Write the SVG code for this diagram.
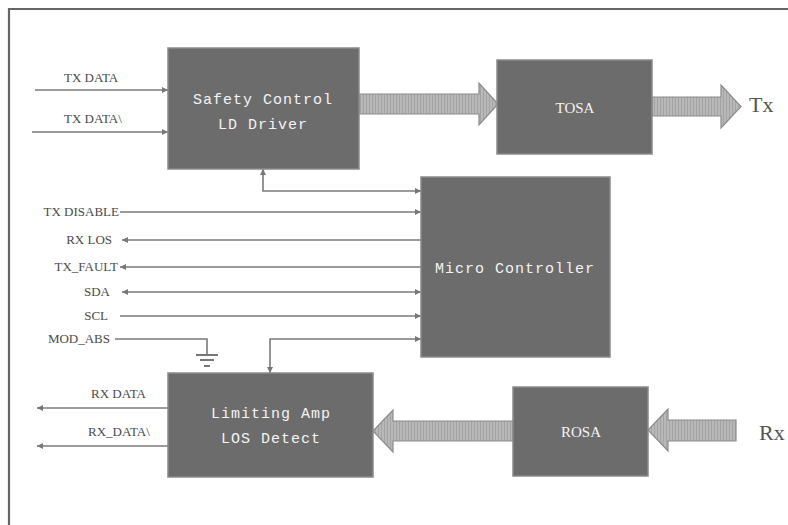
<svg xmlns="http://www.w3.org/2000/svg" width="788" height="525" viewBox="0 0 788 525">
<defs>
<style>
.box{fill:#6c6c6c;stroke:#8a8a8a;stroke-width:1.5}
.bt{font-family:"Liberation Mono",monospace;font-size:15px;fill:#f4f4f4;letter-spacing:1px;text-anchor:middle}
.bs{font-family:"Liberation Serif",serif;font-size:15px;fill:#f4f4f4;text-anchor:middle}
.lbl{font-family:"Liberation Serif",serif;font-size:13px;fill:#4a4a4a}
.big{font-family:"Liberation Serif",serif;font-size:22px;fill:#555}
.ln{fill:none;stroke:#7a7a7a;stroke-width:1.6}
.fat{fill:url(#stripes);stroke:#8c8c8c;stroke-width:1.2}
</style>
<pattern id="stripes" width="3" height="4" patternUnits="userSpaceOnUse">
<rect width="3" height="4" fill="#b8b8b8"/>
<rect width="1" height="4" fill="#a4a4a4"/>
</pattern>
<marker id="ah" viewBox="0 0 10 10" refX="10" refY="5" markerWidth="7" markerHeight="6" markerUnits="userSpaceOnUse" orient="auto-start-reverse">
<path d="M0,0 L10,5 L0,10 z" fill="#777"/>
</marker>
</defs>
<rect width="788" height="525" fill="#fff"/>
<path d="M9,525 V9 H788" fill="none" stroke="#666" stroke-width="2.2"/>

<g id="connectors">
<line class="ln" x1="35" y1="90" x2="168" y2="90" marker-end="url(#ah)"/>
<line class="ln" x1="32" y1="132" x2="168" y2="132" marker-end="url(#ah)"/>
<path class="ln" d="M263,169 V191 H421" marker-start="url(#ah)" marker-end="url(#ah)"/>
<line class="ln" x1="120" y1="212" x2="421" y2="212" marker-end="url(#ah)"/>
<line class="ln" x1="421" y1="240" x2="122" y2="240" marker-end="url(#ah)"/>
<line class="ln" x1="421" y1="267" x2="120" y2="267" marker-end="url(#ah)"/>
<line class="ln" x1="122" y1="292" x2="421" y2="292" marker-start="url(#ah)" marker-end="url(#ah)"/>
<line class="ln" x1="120" y1="316" x2="421" y2="316" marker-end="url(#ah)"/>
<path class="ln" d="M115,339 H207 V355"/>
<path d="M196,355 H218 M200,360 H214 M204,366 H210" stroke="#777" stroke-width="1.8" fill="none"/>
<path class="ln" d="M421,339 H270 V373" marker-start="url(#ah)" marker-end="url(#ah)"/>
<line class="ln" x1="168" y1="408" x2="37" y2="408" marker-end="url(#ah)"/>
<line class="ln" x1="168" y1="446" x2="37" y2="446" marker-end="url(#ah)"/>
<polygon class="fat" points="359,94 479,94 479,83 498,104 479,125 479,114 359,114"/>
<polygon class="fat" points="652,97 721,97 721,85 741,106.5 721,128 721,116 652,116"/>
<polygon class="fat" points="736,420 668,420 668,409 648,430 668,451 668,441 736,441"/>
<polygon class="fat" points="513,421 393,421 393,410 373,431 393,452 393,441 513,441"/>
</g>

<g id="labels">
<text class="lbl" x="64" y="82">TX DATA</text>
<text class="lbl" x="64" y="123">TX DATA\</text>
<text class="lbl" x="119" y="216" text-anchor="end">TX DISABLE</text>
<text class="lbl" x="112" y="244" text-anchor="end">RX LOS</text>
<text class="lbl" x="118" y="271" text-anchor="end">TX_FAULT</text>
<text class="lbl" x="110" y="296" text-anchor="end">SDA</text>
<text class="lbl" x="108" y="320" text-anchor="end">SCL</text>
<text class="lbl" x="110" y="343" text-anchor="end">MOD_ABS</text>
<text class="lbl" x="91" y="398">RX DATA</text>
<text class="lbl" x="88" y="436">RX_DATA\</text>
<text class="big" x="749" y="112">Tx</text>
<text class="big" x="759" y="440">Rx</text>
</g>

<g id="safety">
<rect class="box" x="168" y="48" width="191" height="121"/>
<text class="bt" x="263" y="104">Safety Control</text>
<text class="bt" x="263" y="129">LD Driver</text>
</g>
<g id="tosa">
<rect class="box" x="497" y="60" width="155" height="94"/>
<text class="bs" x="575" y="113">TOSA</text>
</g>
<g id="micro">
<rect class="box" x="421" y="177" width="189" height="180"/>
<text class="bt" x="515" y="273">Micro Controller</text>
</g>
<g id="limiting">
<rect class="box" x="168" y="373" width="205" height="104"/>
<text class="bt" x="271" y="418">Limiting Amp</text>
<text class="bt" x="271" y="443">LOS Detect</text>
</g>
<g id="rosa">
<rect class="box" x="513" y="387" width="135" height="89"/>
<text class="bs" x="581" y="437">ROSA</text>
</g>
</svg>
